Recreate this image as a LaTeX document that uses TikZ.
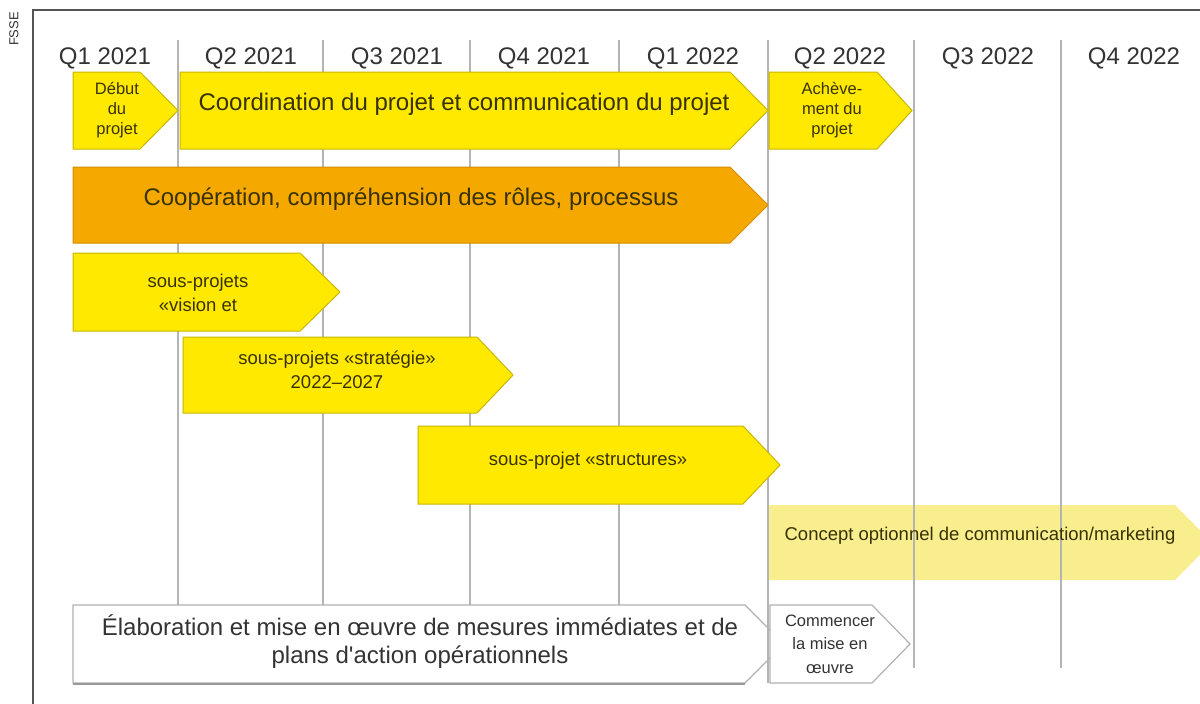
\documentclass[tikz,border=0pt]{standalone}
\usepackage{fontspec}
\setmainfont{Liberation Sans}[Ligatures=TeXOff]
\definecolor{ybar}{HTML}{FFE900}
\definecolor{yedge}{HTML}{C9B600}
\definecolor{obar}{HTML}{F5A900}
\definecolor{oedge}{HTML}{D48C00}
\definecolor{lbar}{HTML}{F9EE8E}
\definecolor{gridc}{HTML}{B4B4B4}
\definecolor{txt}{HTML}{333333}
\definecolor{ytxt}{HTML}{383200}
\definecolor{frame}{HTML}{555555}
\newcommand\chev[6]{\path[#1] (#2,#5) -- (#3,#5) -- (#4,{(#5+#6)/2}) -- (#3,#6) -- (#2,#6) -- cycle;}
\tikzset{
  ybox/.style={fill=ybar, draw=yedge, line width=1pt},
  obox/.style={fill=obar, draw=oedge, line width=1pt},
  lbox/.style={fill=lbar, draw=none},
  wbox/.style={fill=white, draw=gray!60, line width=1.2pt},
  gridline/.style={draw=gridc, line width=1.8pt},
  hdr/.style={font=\fontsize{24}{28}\selectfont, text=txt, inner sep=0pt},
  bigtxt/.style={font=\fontsize{24}{28}\selectfont, text=ytxt, align=center, inner sep=0pt},
  midtxt/.style={font=\fontsize{18.5}{24}\selectfont, text=ytxt, align=center, inner sep=0pt},
  smalltxt/.style={font=\fontsize{16.5}{20}\selectfont, text=ytxt, align=center, inner sep=0pt},
}
\begin{document}
\begin{tikzpicture}[x=1pt,y=-1pt]
\useasboundingbox (0,0) rectangle (1200,704);
\fill[white] (0,0) rectangle (1200,704);
% frame
\draw[frame, line width=1.5pt] (33,704) -- (33,10) -- (1200,10);
\node[rotate=90, font=\fontsize{13}{15}\selectfont, text=txt, inner sep=0pt] (src) at (14,29) {FSSE};
% grid lines
\foreach \x in {178,323,470,619} \draw[gridline] (\x,40) -- (\x,640);
\draw[gridline] (768,40) -- (768,683);
\foreach \x in {914,1061} \draw[gridline] (\x,40) -- (\x,668);
% headers
\node[hdr] (h1) at (105,58) {Q1 2021};
\node[hdr] (h2) at (251,58) {Q2 2021};
\node[hdr] (h3) at (397,58) {Q3 2021};
\node[hdr] (h4) at (544,58) {Q4 2021};
\node[hdr] (h5) at (693,58) {Q1 2022};
\node[hdr] (h6) at (840,58) {Q2 2022};
\node[hdr] (h7) at (988,58) {Q3 2022};
\node[hdr] (h8) at (1134,58) {Q4 2022};
% optional concept bar (light)
\chev{lbox}{768}{1175}{1212}{505}{580}
\foreach \x in {914,1061} \draw[gridline] (\x,500) -- (\x,585);
\draw[gridline] (768,500) -- (768,585);
\node[midtxt] (concept) at (980,536) {Concept optionnel de communication/marketing};
% row 1
\chev{ybox}{73}{140}{178}{72}{149}
\node[smalltxt] (debut) at (117,110) {Début\\du\\projet};
\chev{ybox}{180}{730}{768}{72}{149}
\node[bigtxt] (coord) at (464,104) {Coordination du projet et communication du projet};
\chev{ybox}{769}{877}{912}{72}{149}
\node[smalltxt] (acheve) at (832,110) {Achève-\\ment du\\projet};
% orange
\chev{obox}{73}{730}{768}{167}{243}
\node[bigtxt] (coop) at (411,199) {Coopération, compréhension des rôles, processus};
% sub-projects
\chev{ybox}{73}{300}{340}{253}{331}
\node[midtxt] (vision) at (198,293) {sous-projets\\«vision et};
\chev{ybox}{183}{477}{513}{337}{413}
\node[midtxt] (strat) at (337,370) {sous-projets «stratégie»\\2022–2027};
\chev{ybox}{418}{743}{780}{426}{504}
\node[midtxt] (struct) at (588,461) {sous-projet «structures»};
% bottom row
\chev{wbox}{73}{745}{784}{605}{683}
\draw[gray!80, line width=1.5pt] (73,684) -- (745,684);
\draw[gridline] (768,600) -- (768,683);
\chev{wbox}{770}{872}{910}{605}{683}
\node[font=\fontsize{24}{28}\selectfont, text=txt, align=center, inner sep=0pt] (elab) at (420,642) {Élaboration et mise en œuvre de mesures immédiates et de\\plans d'action opérationnels};
\node[font=\fontsize{16.5}{23.5}\selectfont, text=txt, align=center, inner sep=0pt] (commencer) at (830,644) {Commencer\\la mise en\\œuvre};
\end{tikzpicture}
\end{document}
